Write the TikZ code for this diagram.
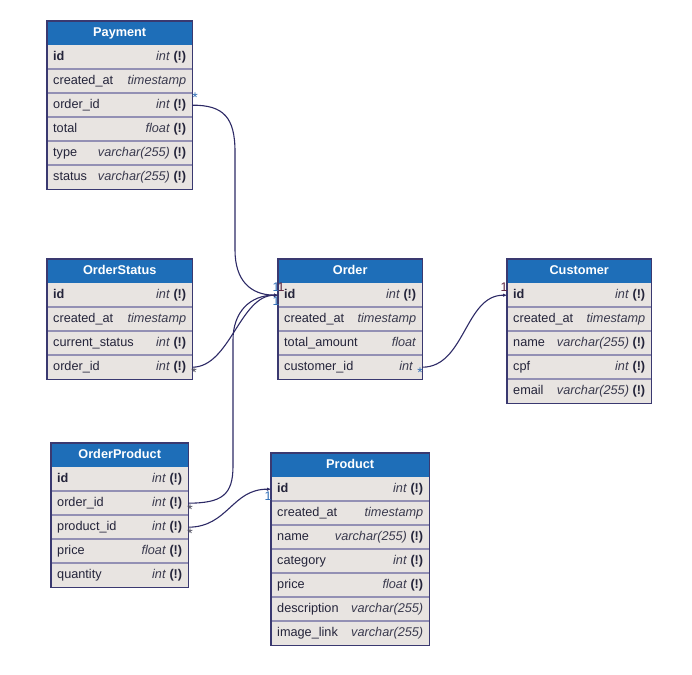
\documentclass[tikz,border=0pt]{standalone}
\usepackage{fontspec}
\setmainfont{Liberation Sans}
\usetikzlibrary{arrows.meta}

\definecolor{hdrblue}{HTML}{1E6EB8}
\definecolor{rowbg}{HTML}{E8E4E1}
\definecolor{edgecol}{HTML}{3A3970}
\definecolor{sepcol}{HTML}{9390B4}
\definecolor{linkcol}{HTML}{2D2A66}
\definecolor{txtcol}{HTML}{24243A}
\definecolor{typecol}{HTML}{3A3A4E}
\definecolor{onecol}{HTML}{2F6DB5}
\definecolor{onedark}{HTML}{5A2440}
\definecolor{starcol}{HTML}{4A4A5A}

\newcommand{\dtype}[1]{{\color{typecol}\textit{#1}}}
\newcommand{\notnull}{\space\textbf{(!)}}

\tikzset{
  tblhead/.style={fill=hdrblue, text=white, font=\fontsize{12.7}{15}\selectfont\bfseries,
    minimum height=24pt, inner sep=0pt, text height=9.5pt, text depth=2.5pt},
  tblrow/.style={fill=rowbg, text=txtcol, font=\fontsize{12.7}{15}\selectfont,
    minimum height=24pt, inner xsep=6pt, inner ysep=0pt, text height=9.5pt, text depth=3pt},
  sepline/.style={draw=sepcol, line width=1.2pt},
  tblborder/.style={draw=edgecol, line width=1.3pt},
  onelink/.style={draw=linkcol, line width=1.1pt, -{Latex[length=4pt,width=3.5pt]}},
  onelabel/.style={font=\fontsize{12.5}{12.5}\selectfont, inner sep=0pt},
  manylabel/.style={font=\fontsize{14}{14}\selectfont, inner sep=0pt},
}

% #1 node prefix, #2 x, #3 top y, #4 width, #5 title, #6 rows key/field/type
\newcommand{\dbtable}[6]{%
  \pgfmathsetmacro{\tblinner}{#4-12}%
  \node[tblhead, minimum width=#4pt, anchor=north west] (#1) at (#2,#3) {#5};
  \foreach [count=\i] \rkey/\fname/\ftype in {#6} {
    \node[tblrow, anchor=north west] (#1-\rkey) at (#2,#3+24*\i)
      {\hbox to \tblinner pt{\fname\hfill\ftype}};
    \ifnum\i>1
      \draw[sepline] (#1-\rkey.north west) -- (#1-\rkey.north east);
    \fi
    \xdef\lastrow{\rkey}
  }
  \draw[tblborder] (#1.north west) rectangle (#1-\lastrow.south east);
}

\begin{document}
\begin{tikzpicture}[x=1pt,y=-1pt]
\useasboundingbox (0,0) rectangle (692,674);

\dbtable{pay}{47}{21}{145}{Payment}{%
  id/\textbf{id}/\dtype{int}\notnull,
  created/created\_at/\dtype{timestamp},
  orderid/order\_id/\dtype{int}\notnull,
  total/total/\dtype{float}\notnull,
  type/type/\dtype{varchar(255)}\notnull,
  status/status/\dtype{varchar(255)}\notnull}

\dbtable{ost}{47}{259}{145}{OrderStatus}{%
  id/\textbf{id}/\dtype{int}\notnull,
  created/created\_at/\dtype{timestamp},
  current/current\_status/\dtype{int}\notnull,
  orderid/order\_id/\dtype{int}\notnull}

\dbtable{op}{51}{443}{137}{OrderProduct}{%
  id/\textbf{id}/\dtype{int}\notnull,
  orderid/order\_id/\dtype{int}\notnull,
  prodid/product\_id/\dtype{int}\notnull,
  price/price/\dtype{float}\notnull,
  qty/quantity/\dtype{int}\notnull}

\dbtable{ord}{278}{259}{144}{Order}{%
  id/\textbf{id}/\dtype{int}\notnull,
  created/created\_at/\dtype{timestamp},
  total/total\_amount/\dtype{float},
  custid/customer\_id/\dtype{int}\hspace{3pt}}

\dbtable{cus}{507}{259}{144}{Customer}{%
  id/\textbf{id}/\dtype{int}\notnull,
  created/created\_at/\dtype{timestamp},
  name/name/\dtype{varchar(255)}\notnull,
  cpf/cpf/\dtype{int}\notnull,
  email/email/\dtype{varchar(255)}\notnull}

\dbtable{prd}{271}{453}{158}{Product}{%
  id/\textbf{id}/\dtype{int}\notnull,
  created/created\_at/\dtype{timestamp},
  name/name/\dtype{varchar(255)}\notnull,
  category/category/\dtype{int}\notnull,
  price/price/\dtype{float}\notnull,
  desc/description/\dtype{varchar(255)},
  image/image\_link/\dtype{varchar(255)}}

% references (many side -> one side)
\draw[onelink] (pay-orderid.east) .. controls (224,105) and (235,118) .. (235,152)
  .. controls (235,200) and (235,230) .. (235,250)
  .. controls (235,280) and (250,295) .. (ord-id.west);
\draw[onelink] (ost-orderid.east) .. controls (230,367) and (240,295) .. (ord-id.west);
\draw[onelink] (op-orderid.east) .. controls (222,503) and (233,495) .. (233,466)
  .. controls (233,420) and (233,380) .. (233,340)
  .. controls (233,312) and (250,295) .. (ord-id.west);
\draw[onelink] (op-prodid.east) .. controls (228,527) and (232,489) .. (prd-id.west);
\draw[onelink] (ord-custid.east) .. controls (465,367) and (465,295) .. (cus-id.west);

% cardinality marks
\node[manylabel, text=onecol] (pay-many) at (195,98) {*};
\node[manylabel, text=starcol] (ost-many) at (194,373) {*};
\node[manylabel, text=starcol] (op-many1) at (190,510) {*};
\node[manylabel, text=starcol] (op-many2) at (190,534) {*};
\node[manylabel, text=onecol] (ord-many) at (420,373) {*};
\node[onelabel, text=onecol] (ord-one1) at (276,287) {1};
\node[onelabel, text=onedark] (ord-one2) at (281,287) {1};
\node[onelabel, text=onecol] (ord-one3) at (276,301) {1};
\node[onelabel, text=onedark] (cus-one) at (504,287) {1};
\node[onelabel, text=onecol] (prd-one) at (268,496) {1};
\end{tikzpicture}
\end{document}
